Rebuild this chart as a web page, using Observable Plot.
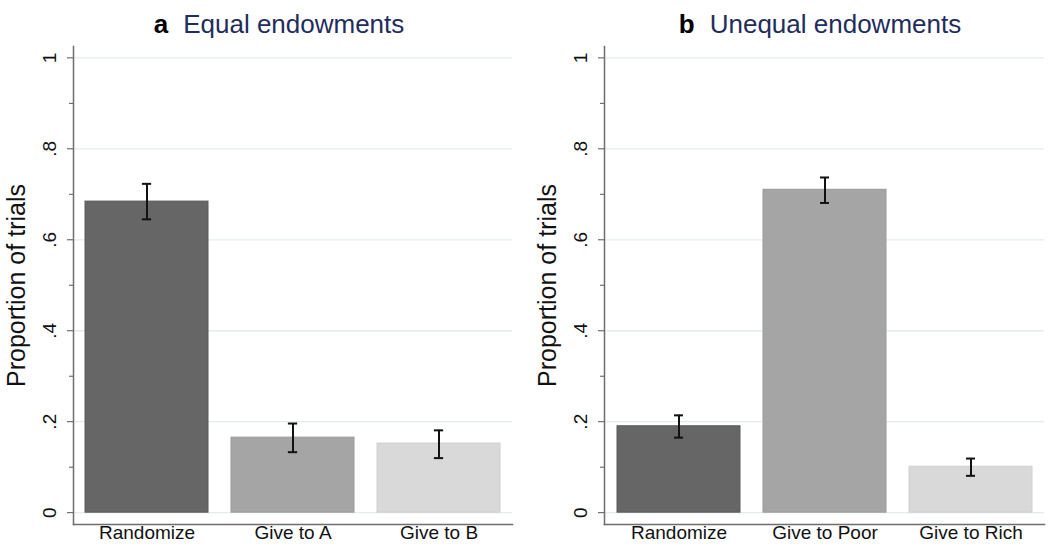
<!DOCTYPE html>
<html><head><meta charset="utf-8">
<script src="https://cdn.jsdelivr.net/npm/d3@7"></script>
<script src="https://cdn.jsdelivr.net/npm/@observablehq/plot@0.6"></script>
<style>
body{margin:0;background:#fff;font-family:"Liberation Sans",Arial,sans-serif;}
#wrap{display:flex;width:1050px;height:553px;overflow:hidden;}
.panel{width:525px;height:553px;}
.title{height:40px;box-sizing:border-box;padding-top:7px;line-height:35px;font-size:26px;color:#1f2d5c;white-space:nowrap;}
.title b{color:#000;margin-right:15px;}
svg{display:block;}
</style></head>
<body>
<div id="wrap">
  <div class="panel" id="pa"><div class="title" style="padding-left:33px;text-align:center;"><b>a</b>Equal endowments</div></div>
  <div class="panel" id="pb"><div class="title" style="padding-left:65px;text-align:center;"><b>b</b>Unequal endowments</div></div>
</div>
<script>
const categoriesA = ["Randomize", "Give to A", "Give to B"];
const valuesA = [0.684, 0.165, 0.152];
const lowA = [0.645, 0.133, 0.120];
const highA = [0.723, 0.196, 0.181];

const categoriesB = ["Randomize", "Give to Poor", "Give to Rich"];
const valuesB = [0.190, 0.710, 0.101];
const lowB = [0.165, 0.681, 0.081];
const highB = [0.214, 0.737, 0.119];

const barColors = ["#666666", "#a5a5a5", "#d9d9d9"];
const barOutline = ["#5a5a5a", "#9a9a9a", "#cfcfcf"];
const yTicks = [0, 0.2, 0.4, 0.6, 0.8, 1];
const yMinorTicks = [0.1, 0.3, 0.5, 0.7, 0.9];
const yLabel = "Proportion of trials";

function fmt(d) {
  if (d === 0) return "0";
  if (d === 1) return "1";
  return String(+d.toFixed(1)).replace(/^0\./, ".");
}

function panel(cats, vals, lo, hi, mLeft, mRight) {
  const data = cats.map((c, i) => ({cat: c, v: vals[i], lo: lo[i], hi: hi[i], fill: barColors[i], stroke: barOutline[i]}));
  const W = 525, H = 513, mTop = 6, mBottom = 29;
  const pi = 0.16, po = 0.082;
  const innerW = W - mLeft - mRight;
  const step = innerW / (cats.length - pi + 2 * po);
  const bw = step * (1 - pi);
  const capInset = (bw - 9) / 2;
  const svg = Plot.plot({
    width: W, height: H,
    marginLeft: mLeft, marginRight: mRight, marginTop: mTop, marginBottom: mBottom,
    style: {fontFamily: "'Liberation Sans', Arial, sans-serif", fontSize: "19px", color: "#111", background: "#fff"},
    x: {domain: cats, type: "band", paddingInner: pi, paddingOuter: po, label: null},
    y: {domain: [-0.026, 1.025], label: null},
    color: {type: "identity"},
    marks: [
      Plot.gridY(yTicks, {stroke: "#e2ecec", strokeOpacity: 1, strokeWidth: 1.3}),
      Plot.barY(data, {x: "cat", y1: 0, y2: "v", fill: "fill", stroke: "stroke", strokeWidth: 1}),
      Plot.ruleX(data, {x: "cat", y1: "lo", y2: "hi", stroke: "#111", strokeWidth: 2}),
      Plot.tickY(data, {x: "cat", y: "lo", stroke: "#111", strokeWidth: 2, insetLeft: capInset, insetRight: capInset}),
      Plot.tickY(data, {x: "cat", y: "hi", stroke: "#111", strokeWidth: 2, insetLeft: capInset, insetRight: capInset}),
      Plot.axisY({ticks: yTicks, tickFormat: fmt, tickRotate: -90, tickSize: 6, tickPadding: 12, stroke: "#555", fill: "#111", label: null, fontSize: 19}),
      Plot.axisY({ticks: yMinorTicks, tickSize: 4, tickFormat: () => "", stroke: "#555", label: null}),
      Plot.axisY({ticks: [], label: yLabel, labelArrow: "none", labelAnchor: "center", labelOffset: 66, fontSize: 25, fill: "#111"}),
      Plot.axisX({tickSize: 0, tickPadding: 1, label: null, fontSize: 19, fill: "#111"}),
      Plot.frame({anchor: "left", stroke: "#6e6e6e", strokeWidth: 1.5}),
      Plot.frame({anchor: "bottom", stroke: "#6e6e6e", strokeWidth: 1.5})
    ]
  });
  return svg;
}

document.getElementById("pa").appendChild(panel(categoriesA, valuesA, lowA, highA, 73, 13));
document.getElementById("pb").appendChild(panel(categoriesB, valuesB, lowB, highB, 79, 6));
</script>
</body></html>
